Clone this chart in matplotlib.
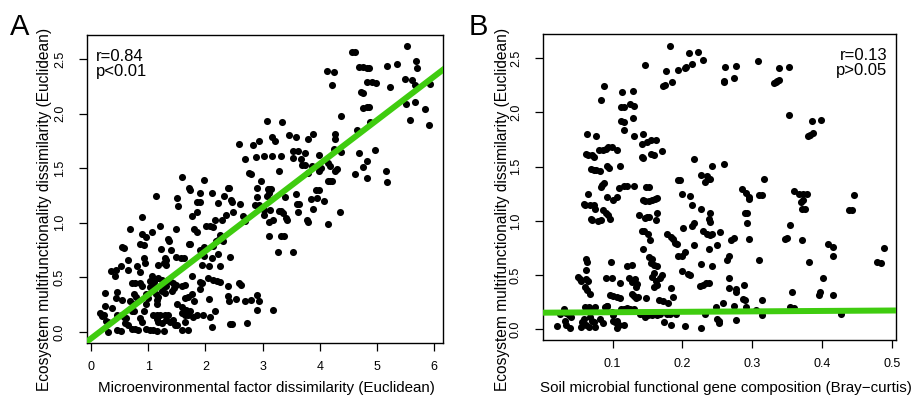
import numpy as np
import matplotlib
matplotlib.use("Agg")
import matplotlib.pyplot as plt

plt.rcParams['font.family'] = ['Liberation Sans', 'DejaVu Sans']

# ---- panel A: microenvironment vs multifunctionality
a_xy = [
    (5.53, 2.62), (4.57, 2.56), (4.62, 2.56), (5.68, 2.48), (5.70, 2.42), (5.35, 2.45),
    (5.18, 2.44), (4.12, 2.39), (4.25, 2.38), (4.69, 2.43), (4.75, 2.43), (4.82, 2.42),
    (4.86, 2.42), (5.49, 2.32), (5.62, 2.31), (4.22, 2.26), (4.82, 2.29), (4.91, 2.29),
    (4.98, 2.28), (5.23, 2.24), (5.66, 2.26), (5.93, 2.27), (4.73, 2.20), (4.76, 2.19),
    (5.50, 2.09), (5.67, 2.11), (4.76, 2.05), (4.82, 2.06), (4.86, 2.06), (5.84, 2.04),
    (4.38, 1.98), (5.57, 1.94), (5.91, 1.90), (4.88, 1.92),
    (3.07, 1.93), (3.34, 1.92), (2.58, 1.72), (2.84, 1.71), (2.94, 1.75), (3.16, 1.79),
    (3.21, 1.75), (3.46, 1.80), (3.59, 1.79), (3.88, 1.81), (3.79, 1.77), (4.26, 1.81),
    (4.27, 1.77), (4.66, 1.85), (2.69, 1.58), (2.89, 1.60), (3.03, 1.61), (3.16, 1.61),
    (3.33, 1.61), (3.54, 1.66), (3.62, 1.66), (3.53, 1.59), (3.67, 1.58), (3.74, 1.64),
    (3.99, 1.62), (4.37, 1.65), (4.69, 1.64), (4.97, 1.67), (4.25, 1.68), (2.77, 1.46),
    (2.79, 1.45), (3.28, 1.47), (3.69, 1.53), (3.74, 1.53), (3.80, 1.46), (3.87, 1.52),
    (3.99, 1.47), (4.03, 1.50), (4.15, 1.55), (4.18, 1.52), (4.27, 1.47), (4.30, 1.49),
    (4.61, 1.45), (4.76, 1.51), (4.82, 1.57), (5.16, 1.47), (5.17, 1.37), (4.82, 1.41),
    (4.15, 1.38), (4.18, 1.38), (4.22, 1.38), (3.94, 1.30), (3.98, 1.30), (2.90, 1.32),
    (2.97, 1.38), (3.09, 1.31), (3.12, 1.31), (3.15, 1.31), (3.07, 1.25), (3.11, 1.27),
    (2.90, 1.24), (3.39, 1.24), (3.58, 1.26), (3.84, 1.22), (3.95, 1.23), (4.08, 1.20),
    (3.60, 1.17), (3.64, 1.17), (3.89, 1.13), (2.87, 1.16), (2.93, 1.16), (3.02, 1.12),
    (3.13, 1.12), (3.28, 1.11), (3.32, 1.11), (3.36, 1.09), (3.41, 1.04), (3.42, 1.03),
    (3.62, 1.10), (4.36, 1.10), (3.19, 1.03), (3.11, 1.01), (3.77, 1.03), (3.80, 1.01),
    (4.15, 0.99), (3.02, 1.07), (3.12, 0.88), (3.32, 0.88), (3.38, 0.88), (3.27, 0.73),
    (3.54, 0.73),
    (1.59, 1.42), (1.98, 1.39), (1.71, 1.32), (1.74, 1.30), (1.51, 1.23), (1.53, 1.15),
    (1.90, 1.27), (2.12, 1.27), (1.85, 1.19), (1.90, 1.19), (1.86, 1.10), (2.23, 1.18),
    (2.33, 1.25), (2.39, 1.32), (2.42, 1.32), (2.45, 1.21), (2.47, 1.19), (2.61, 1.17),
    (2.49, 1.10), (2.37, 1.07), (2.66, 1.06), (2.29, 1.03), (2.17, 1.03), (2.69, 1.02),
    (1.76, 1.06), (1.81, 0.94), (2.02, 0.97), (2.08, 0.97), (2.14, 0.96), (1.86, 0.92),
    (1.48, 0.94), (1.71, 0.81), (1.74, 0.81), (2.26, 0.89), (2.19, 0.83), (2.23, 0.84),
    (2.31, 0.83), (1.91, 0.75), (1.97, 0.78), (2.14, 0.79), (1.97, 0.70), (2.11, 0.68),
    (2.23, 0.71), (2.43, 0.69), (1.57, 0.68), (1.62, 0.68), (1.94, 0.61), (2.06, 0.60),
    (2.26, 0.60), (2.04, 0.49), (1.90, 0.46), (1.94, 0.45), (1.76, 0.51), (2.14, 0.48),
    (2.20, 0.47), (2.26, 0.46), (2.39, 0.42), (2.58, 0.45), (2.62, 0.43), (1.91, 0.39),
    (1.76, 0.35), (1.65, 0.43), (1.59, 0.42), (1.64, 0.31), (1.70, 0.32), (1.80, 0.28),
    (2.06, 0.30), (2.40, 0.33), (2.42, 0.28), (2.53, 0.30), (2.69, 0.28), (2.79, 0.29),
    (2.90, 0.34), (2.94, 0.28), (2.90, 0.20), (3.18, 0.20), (2.17, 0.19), (2.08, 0.14),
    (2.11, 0.05), (2.43, 0.07), (2.47, 0.07), (2.72, 0.08), (1.59, 0.23), (1.67, 0.20),
    (1.73, 0.19), (1.59, 0.17), (1.65, 0.16), (1.70, 0.16), (1.79, 0.14), (1.85, 0.16),
    (1.96, 0.16), (1.60, 0.02), (1.70, 0.02), (1.64, 0.09),
    (1.14, 1.25), (0.90, 1.05), (0.68, 0.94), (0.89, 0.90), (0.96, 0.87), (1.06, 0.92),
    (1.21, 0.97), (0.85, 0.81), (0.93, 0.80), (0.55, 0.78), (0.58, 0.77), (1.22, 0.76),
    (1.35, 0.85), (1.36, 0.83), (1.40, 0.75), (1.48, 0.69), (1.29, 0.68), (1.32, 0.66),
    (1.18, 0.61), (1.27, 0.63), (1.32, 0.61), (0.92, 0.68), (0.94, 0.63), (0.65, 0.66),
    (0.35, 0.56), (0.44, 0.57), (0.52, 0.60), (0.64, 0.57), (0.80, 0.60), (0.85, 0.55),
    (0.42, 0.51), (1.06, 0.51), (1.18, 0.49), (1.25, 0.48), (1.35, 0.48), (1.39, 0.47),
    (1.03, 0.47), (1.10, 0.46), (0.72, 0.45), (0.77, 0.45), (0.86, 0.45), (0.89, 0.42),
    (1.28, 0.42), (1.32, 0.42), (1.44, 0.45), (1.48, 0.43), (1.03, 0.41), (1.09, 0.41),
    (1.41, 0.38), (1.45, 0.40), (1.25, 0.38), (1.29, 0.36), (0.45, 0.37), (0.24, 0.36),
    (0.43, 0.31), (0.76, 0.35), (0.79, 0.32), (0.55, 0.29), (0.97, 0.35), (0.99, 0.31),
    (1.13, 0.35), (1.17, 0.32), (1.15, 0.29), (1.16, 0.26), (0.97, 0.26), (1.50, 0.26),
    (0.68, 0.28), (0.74, 0.26), (0.24, 0.24), (0.71, 0.19), (0.76, 0.19), (0.92, 0.19),
    (0.36, 0.22), (0.16, 0.17), (0.19, 0.15), (0.23, 0.16), (0.45, 0.16), (0.55, 0.16),
    (0.58, 0.14), (0.61, 0.13), (1.09, 0.16), (1.15, 0.16), (1.21, 0.16), (1.29, 0.16),
    (1.35, 0.16), (1.15, 0.12), (1.18, 0.09), (1.24, 0.08), (1.32, 0.11), (1.38, 0.09),
    (1.44, 0.11), (1.47, 0.06), (1.50, 0.06), (0.86, 0.13), (0.89, 0.09), (0.59, 0.08),
    (0.64, 0.06), (0.71, 0.03), (0.77, 0.03), (0.83, 0.02), (0.97, 0.03), (1.03, 0.02),
    (1.09, 0.02), (1.15, 0.01), (1.28, 0.01), (0.46, 0.02), (0.52, 0.01), (0.30, 0.00),
    (0.27, 0.10), (0.30, 0.09),
]
a_fit = (-0.06, 0.40)      # intercept, slope
a_stats = "r=0.84\np<0.01"

# ---- panel B: functional gene composition vs multifunctionality
b_xy = [
    (0.182, 2.61), (0.147, 2.44), (0.176, 2.38), (0.185, 2.28), (0.172, 2.24), (0.175, 2.25),
    (0.194, 2.39), (0.203, 2.41), (0.205, 2.42), (0.209, 2.55), (0.214, 2.45), (0.222, 2.56),
    (0.229, 2.48), (0.261, 2.42), (0.259, 2.29), (0.260, 2.28), (0.277, 2.43), (0.274, 2.32),
    (0.308, 2.47), (0.331, 2.27), (0.334, 2.28), (0.336, 2.29), (0.338, 2.30), (0.338, 2.41),
    (0.353, 2.42), (0.353, 1.98), (0.386, 1.92), (0.399, 1.93), (0.380, 1.78), (0.383, 1.79),
    (0.387, 1.81), (0.088, 2.24), (0.084, 2.11), (0.113, 2.19), (0.129, 2.20), (0.112, 2.05),
    (0.116, 2.05), (0.125, 2.08), (0.131, 2.06), (0.112, 1.92), (0.116, 1.91), (0.129, 1.95),
    (0.117, 1.84), (0.131, 1.78), (0.064, 1.80), (0.076, 1.78), (0.143, 1.80), (0.142, 1.71),
    (0.149, 1.73), (0.155, 1.75), (0.162, 1.75), (0.171, 1.64), (0.142, 1.59), (0.144, 1.58),
    (0.155, 1.62), (0.159, 1.61), (0.216, 1.57), (0.259, 1.52), (0.243, 1.51),
    (0.062, 1.62), (0.065, 1.61), (0.070, 1.61), (0.074, 1.59), (0.069, 1.48), (0.073, 1.47),
    (0.077, 1.47), (0.082, 1.46), (0.080, 1.65), (0.086, 1.65), (0.090, 1.66), (0.094, 1.68),
    (0.099, 1.68), (0.092, 1.51), (0.095, 1.49), (0.107, 1.65), (0.111, 1.51), (0.085, 1.33),
    (0.088, 1.35), (0.084, 1.31), (0.116, 1.32), (0.120, 1.32), (0.130, 1.32), (0.148, 1.31),
    (0.152, 1.31), (0.109, 1.30), (0.194, 1.38), (0.197, 1.38), (0.226, 1.42), (0.235, 1.41),
    (0.237, 1.39), (0.240, 1.39), (0.232, 1.36), (0.317, 1.39), (0.285, 1.29), (0.291, 1.26),
    (0.295, 1.22), (0.296, 1.20), (0.309, 1.24), (0.314, 1.24), (0.360, 1.28), (0.367, 1.25),
    (0.372, 1.25), (0.378, 1.25), (0.372, 1.19), (0.370, 1.17), (0.371, 1.11), (0.375, 1.11),
    (0.446, 1.24), (0.438, 1.10), (0.442, 1.10), (0.200, 1.25), (0.211, 1.23), (0.214, 1.15),
    (0.227, 1.11), (0.092, 1.22), (0.101, 1.19), (0.106, 1.22), (0.065, 1.25), (0.059, 1.16),
    (0.061, 1.15), (0.068, 1.15), (0.073, 1.15), (0.075, 1.11), (0.069, 1.02), (0.071, 1.01),
    (0.079, 1.00), (0.083, 1.01), (0.087, 1.10), (0.090, 1.07), (0.094, 1.05), (0.097, 1.02),
    (0.144, 1.19), (0.147, 1.18), (0.152, 1.18), (0.157, 1.19), (0.161, 1.20), (0.164, 1.21),
    (0.152, 1.04), (0.149, 1.04), (0.147, 1.03), (0.138, 1.05), (0.163, 1.07), (0.162, 1.01),
    (0.142, 0.91), (0.145, 0.91), (0.151, 0.88), (0.153, 0.82), (0.143, 0.74), (0.178, 0.88),
    (0.183, 0.85), (0.186, 0.83), (0.190, 0.80), (0.192, 0.79), (0.201, 0.93), (0.213, 0.95),
    (0.216, 0.98), (0.239, 1.07), (0.238, 1.02), (0.239, 0.99), (0.230, 0.91), (0.235, 0.88),
    (0.239, 0.87), (0.242, 0.88), (0.254, 0.90), (0.238, 0.74), (0.249, 0.78), (0.216, 0.78),
    (0.194, 0.68), (0.199, 0.68), (0.204, 0.71), (0.269, 0.82), (0.274, 0.84), (0.267, 0.68),
    (0.264, 0.64), (0.290, 1.07), (0.292, 1.07), (0.292, 0.98), (0.296, 0.83), (0.309, 0.64),
    (0.347, 0.83), (0.350, 0.84), (0.354, 0.96), (0.371, 0.82), (0.408, 0.79), (0.416, 0.76),
    (0.416, 0.68), (0.381, 0.62), (0.478, 0.62), (0.484, 0.61), (0.488, 0.75), (0.401, 0.47),
    (0.416, 0.32), (0.395, 0.32), (0.397, 0.34), (0.357, 0.34), (0.314, 0.27), (0.427, 0.14),
    (0.062, 0.65), (0.063, 0.62), (0.062, 0.55), (0.051, 0.48), (0.053, 0.46), (0.055, 0.45),
    (0.062, 0.46), (0.065, 0.45), (0.060, 0.39), (0.064, 0.36), (0.068, 0.33), (0.090, 0.47),
    (0.099, 0.47), (0.098, 0.62), (0.092, 0.22), (0.096, 0.32), (0.100, 0.31), (0.106, 0.30),
    (0.111, 0.29), (0.110, 0.43), (0.121, 0.58), (0.128, 0.59), (0.124, 0.47), (0.128, 0.44),
    (0.132, 0.46), (0.135, 0.42), (0.134, 0.39), (0.128, 0.33), (0.131, 0.31), (0.133, 0.29),
    (0.137, 0.30), (0.148, 0.29), (0.152, 0.67), (0.157, 0.65), (0.155, 0.61), (0.159, 0.59),
    (0.163, 0.58), (0.160, 0.52), (0.157, 0.48), (0.162, 0.45), (0.160, 0.39), (0.164, 0.41),
    (0.171, 0.50), (0.168, 0.47), (0.167, 0.27), (0.172, 0.26), (0.183, 0.38), (0.187, 0.30),
    (0.180, 0.24), (0.199, 0.54), (0.211, 0.50), (0.208, 0.51), (0.226, 0.60), (0.225, 0.40),
    (0.229, 0.41), (0.234, 0.43), (0.238, 0.43), (0.243, 0.58), (0.266, 0.47), (0.266, 0.38),
    (0.277, 0.37), (0.276, 0.34), (0.288, 0.41), (0.286, 0.28), (0.290, 0.27), (0.248, 0.21),
    (0.258, 0.24), (0.274, 0.22), (0.291, 0.21), (0.305, 0.18), (0.314, 0.13), (0.354, 0.21),
    (0.359, 0.20), (0.232, 0.14), (0.250, 0.10), (0.252, 0.08), (0.253, 0.06), (0.277, 0.09),
    (0.227, 0.01), (0.203, 0.03), (0.183, 0.04), (0.173, 0.07), (0.168, 0.14), (0.178, 0.14),
    (0.182, 0.14), (0.191, 0.14), (0.147, 0.11), (0.151, 0.13), (0.156, 0.13), (0.163, 0.13),
    (0.140, 0.14), (0.143, 0.14), (0.120, 0.20), (0.125, 0.19), (0.130, 0.19), (0.112, 0.19),
    (0.116, 0.19), (0.101, 0.08), (0.104, 0.07), (0.106, 0.08), (0.109, 0.04), (0.107, 0.01),
    (0.116, 0.04), (0.099, 0.16), (0.100, 0.13), (0.089, 0.21), (0.092, 0.22), (0.082, 0.10),
    (0.086, 0.06), (0.075, 0.21), (0.073, 0.19), (0.070, 0.18), (0.066, 0.21), (0.061, 0.21),
    (0.068, 0.11), (0.070, 0.08), (0.073, 0.07), (0.062, 0.04), (0.066, 0.02), (0.075, 0.02),
    (0.059, 0.10), (0.056, 0.07), (0.055, 0.02), (0.031, 0.19), (0.025, 0.14), (0.034, 0.15),
    (0.032, 0.08), (0.037, 0.13), (0.040, 0.11), (0.034, 0.04), (0.039, 0.01), (0.021, 0.03),
]
b_fit = (0.154, 0.04)
b_stats = "r=0.13\np>0.05"

ylabel = "Ecosystem multifunctionality dissimilarity (Euclidean)"
a_xlabel = "Microenvironmental factor dissimilarity (Euclidean)"
b_xlabel = "Soil microbial functional gene composition (Bray\u2212curtis)"
a_xticks = [0, 1, 2, 3, 4, 5, 6]
b_xticks = [0.1, 0.2, 0.3, 0.4, 0.5]
yticks = [0.0, 0.5, 1.0, 1.5, 2.0, 2.5]

green = '#3fcc0f'

fig = plt.figure(figsize=(9.19, 3.95), dpi=100)
ax_a = fig.add_axes([0.0943, 0.1324, 0.3874, 0.779])
ax_b = fig.add_axes([0.5905, 0.1392, 0.3845, 0.774])


def draw_panel(ax, xy, fit, xlim, xticks, xfmt):
    pts = np.array(xy)
    ax.scatter(pts[:, 0], pts[:, 1], s=26, c='black', linewidths=0, zorder=2)
    ax.axline((0, fit[0]), slope=fit[1], color=green, lw=4.3, zorder=3)
    ax.set_xlim(*xlim)
    ax.set_ylim(-0.098, 2.72)
    ax.set_xticks(xticks)
    ax.set_xticklabels([xfmt.format(t) for t in xticks])
    ax.set_yticks(yticks)
    ax.set_yticklabels(['{:.1f}'.format(t) for t in yticks], rotation=90, va='center')
    ax.tick_params(direction='out', length=6, width=0.9, labelsize=9)
    ax.tick_params(axis='y', pad=9)
    ax.tick_params(axis='x', pad=7)
    for s in ax.spines.values():
        s.set_linewidth(1.0)


draw_panel(ax_a, a_xy, a_fit, (-0.075, 6.15), a_xticks, '{:d}')
draw_panel(ax_b, b_xy, b_fit, (0.0, 0.5057), b_xticks, '{:.1f}')

ax_a.text(0.027, 0.955, a_stats, transform=ax_a.transAxes, ha='left', va='top',
          fontsize=12, linespacing=1.0)
ax_b.text(0.975, 0.955, b_stats, transform=ax_b.transAxes, ha='right', va='top',
          fontsize=12, linespacing=1.0)

fig.text(266 / 919, 1 - 388 / 395, a_xlabel, ha='center', va='center', fontsize=10.9)
fig.text(726 / 919, 1 - 388 / 395, b_xlabel, ha='center', va='center', fontsize=10.9)
fig.text(45 / 919, 1 - 209 / 395, ylabel, ha='center', va='center', rotation=90, fontsize=11.2)
fig.text(502 / 919, 1 - 209 / 395, ylabel, ha='center', va='center', rotation=90, fontsize=11.2)

fig.text(10 / 919, 1 - 35 / 395, "A", ha='left', va='baseline', fontsize=21)
fig.text(469 / 919, 1 - 35 / 395, "B", ha='left', va='baseline', fontsize=21)

fig.savefig("out.png", dpi=100)
